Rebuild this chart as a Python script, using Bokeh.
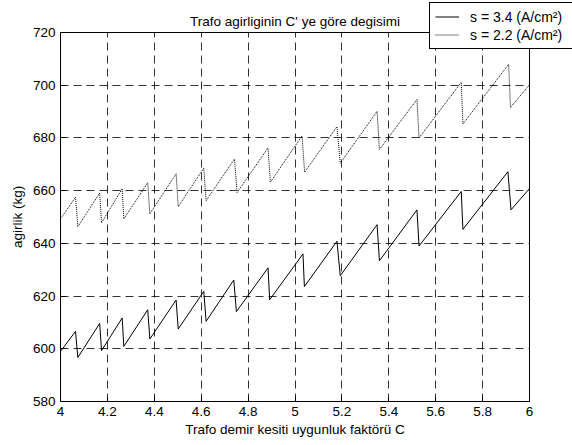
from bokeh.plotting import figure
from bokeh.models import LinearAxis, FixedTicker, Legend, LegendItem, Range1d
from bokeh.embed import file_html
from bokeh.resources import INLINE

# ---- data ----
title_text = "Trafo agirliginin C' ye göre degisimi"
x_label = "Trafo demir kesiti uygunluk faktörü C"
y_label = "agirlik (kg)"

xticks = [4, 4.2, 4.4, 4.6, 4.8, 5, 5.2, 5.4, 5.6, 5.8, 6]
xtick_labels = ["4", "4.2", "4.4", "4.6", "4.8", "5", "5.2", "5.4", "5.6", "5.8", "6"]
yticks = [580, 600, 620, 640, 660, 680, 700, 720]

s34_label = "s = 3.4 (A/cm²)"
s34_x = [4.0, 4.064, 4.074, 4.167, 4.175, 4.263, 4.270, 4.372, 4.381, 4.493,
         4.502, 4.611, 4.621, 4.739, 4.750, 4.885, 4.892, 5.034, 5.040, 5.179,
         5.193, 5.350, 5.360, 5.520, 5.529, 5.709, 5.716, 5.908, 5.921, 6.0]
s34_y = [599.0, 606.6, 596.7, 609.6, 599.3, 611.7, 600.9, 614.8, 603.7, 618.5,
         607.5, 621.8, 610.4, 626.1, 614.1, 630.7, 618.6, 636.0, 623.6, 640.8,
         627.7, 647.1, 633.4, 652.7, 639.0, 659.7, 645.3, 667.2, 652.7, 660.8]

s22_label = "s = 2.2 (A/cm²)"
s22_x = [4.0, 4.064, 4.074, 4.167, 4.175, 4.263, 4.270, 4.372, 4.381, 4.493,
         4.502, 4.611, 4.621, 4.742, 4.753, 4.885, 4.895, 5.030, 5.041, 5.179,
         5.193, 5.350, 5.360, 5.520, 5.529, 5.709, 5.716, 5.911, 5.919, 6.0]
s22_y = [649.3, 657.5, 646.3, 659.1, 647.8, 660.7, 649.3, 663.0, 651.2, 666.4,
         653.9, 668.6, 656.2, 672.0, 659.3, 676.2, 663.2, 680.8, 667.0, 684.3,
         670.4, 690.1, 675.6, 694.6, 680.0, 701.1, 685.3, 707.9, 691.6, 700.1]

FONT = "Liberation Sans"
FS = "13.5px"
FW, FH = 469, 369

p = figure(frame_width=FW, frame_height=FH,
           x_range=Range1d(4, 6), y_range=Range1d(580, 720),
           output_backend="svg", toolbar_location=None,
           x_axis_location=None, y_axis_location=None,
           min_border_left=60, min_border_right=41,
           min_border_top=32, min_border_bottom=42)
p.outline_line_color = "black"
p.outline_line_width = 1
p.background_fill_color = "white"
p.border_fill_color = "white"

p.title.text = title_text
p.title.align = "center"
p.title.text_font = FONT
p.title.text_font_size = FS
p.title.text_font_style = "normal"
p.title.text_color = "black"
p.title.standoff = 8

xt = FixedTicker(ticks=xticks)
yt = FixedTicker(ticks=yticks)
overrides = {t: l for t, l in zip(xticks, xtick_labels)}


def style_axis(ax):
    ax.major_tick_in = 5
    ax.major_tick_out = 0
    ax.minor_tick_line_color = None
    ax.axis_line_color = "black"
    ax.major_tick_line_color = "black"
    ax.major_label_text_font = FONT
    ax.major_label_text_font_size = FS
    ax.major_label_text_color = "black"
    ax.axis_label_text_font = FONT
    ax.axis_label_text_font_size = FS
    ax.axis_label_text_font_style = "normal"
    ax.axis_label_text_color = "black"
    ax.major_label_standoff = 5


xb = LinearAxis(ticker=xt, axis_label=x_label, major_label_overrides=overrides)
style_axis(xb)
xb.axis_label_standoff = 3
p.add_layout(xb, "below")

yl = LinearAxis(ticker=yt, axis_label=y_label)
style_axis(yl)
yl.axis_label_standoff = 5
p.add_layout(yl, "left")

p.xgrid.ticker = xt
p.ygrid.ticker = yt
for g in (p.xgrid, p.ygrid):
    g.grid_line_color = "black"
    g.grid_line_alpha = 0.8
    g.grid_line_dash = "8 5"
    g.grid_line_width = 1

r1 = p.line(s34_x, s34_y, line_color="black", line_width=1)
r2 = p.line(s22_x, s22_y, line_color="black", line_width=1, line_dash="1 1")

legend = Legend(items=[LegendItem(label=s34_label, renderers=[r1]),
                       LegendItem(label=s22_label, renderers=[r2])],
                location=(-100, 352), padding=5, margin=-55, spacing=1,
                label_height=17, glyph_height=17, glyph_width=24,
                label_standoff=11, label_width=98,
                border_line_color="black", border_line_width=1,
                border_line_alpha=1,
                background_fill_color="white", background_fill_alpha=1,
                label_text_font=FONT, label_text_font_size="14px",
                label_text_color="black")
p.add_layout(legend, "right")

open("out.html", "w").write(file_html(p, INLINE))
